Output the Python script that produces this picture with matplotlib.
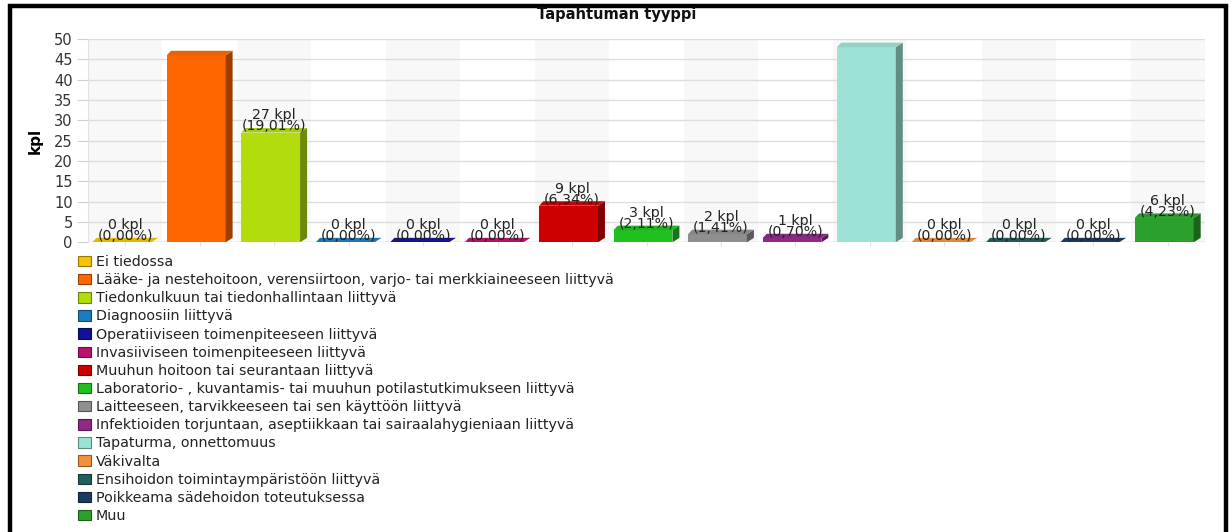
import matplotlib
matplotlib.use("Agg")
import matplotlib.pyplot as plt
from matplotlib.patches import Polygon, Patch, Rectangle
import matplotlib.colors as mcolors
import numpy as np

categories = [
    "Ei tiedossa",
    "Lääke- ja nestehoitoon, verensiirtoon, varjo- tai merkkiaineeseen liittyvä",
    "Tiedonkulkuun tai tiedonhallintaan liittyvä",
    "Diagnoosiin liittyvä",
    "Operatiiviseen toimenpiteeseen liittyvä",
    "Invasiiviseen toimenpiteeseen liittyvä",
    "Muuhun hoitoon tai seurantaan liittyvä",
    "Laboratorio- , kuvantamis- tai muuhun potilastutkimukseen liittyvä",
    "Laitteeseen, tarvikkeeseen tai sen käyttöön liittyvä",
    "Infektioiden torjuntaan, aseptiikkaan tai sairaalahygieniaan liittyvä",
    "Tapaturma, onnettomuus",
    "Väkivalta",
    "Ensihoidon toimintaympäristöön liittyvä",
    "Poikkeama sädehoidon toteutuksessa",
    "Muu",
]
values = [0, 46, 27, 0, 0, 0, 9, 3, 2, 1, 48, 0, 0, 0, 6]
show_label = [True, False, True, True, True, True, True, True, True, True, False, True, True, True, True]
colors = ["#F6C400", "#FF6600", "#B2DC0C", "#1C7CC0", "#10109A", "#BA126C", "#CC0000",
          "#20C020", "#8F8F8F", "#8C2A86", "#9CE3D6", "#F5913E", "#225E5C", "#1B3B60", "#2CA02C"]
title = "Tapahtuman tyyppi"
ylabel = "kpl"
yticks = [0, 5, 10, 15, 20, 25, 30, 35, 40, 45, 50]

W, H = 1232, 532
fig = plt.figure(figsize=(W / 100, H / 100), dpi=100)
fig.patch.set_facecolor("white")

def fx(px):
    return px / W

def fy(py):
    return 1 - py / H

left, right, top, bottom = 88, 1205, 39, 242.3
ax = fig.add_axes([fx(left), fy(bottom), fx(right - left), (bottom - top) / H])
n = len(values)
x = np.arange(n)
ax.set_xlim(-0.5, n - 0.5)
ax.set_ylim(0, 50)

# background bands
for i in range(n):
    if i % 2 == 0:
        ax.axvspan(i - 0.5, i + 0.5, color="#F8F8F8", zorder=0, lw=0)

ax.set_yticks(yticks)
ax.yaxis.grid(True, color="#DDDDDD", lw=1, zorder=1)
ax.set_axisbelow(True)
for s in ["top", "right", "bottom"]:
    ax.spines[s].set_visible(False)
ax.spines["left"].set_color("#E2E2E2")
ax.tick_params(axis="y", length=8, color="#D0D0D0", labelsize=10.5, labelcolor="#333333", pad=3)
ax.tick_params(axis="x", length=3, color="#E0E0E0", labelbottom=False)
ax.set_xticks(x)
ax.axhline(0, color="#D8D8D8", lw=1, zorder=1)
ax.set_ylabel(ylabel, fontsize=11, fontweight="bold", labelpad=8)

front_w = 0.79
dx = 0.094
dy = 1.1
offs = -dx / 2
bars = ax.bar(x + offs, values, width=front_w, color=colors, zorder=3, lw=0)

total = sum(values)
for i, (b, v, c) in enumerate(zip(bars, values, colors)):
    x0 = b.get_x()
    x1 = x0 + b.get_width()
    h = b.get_height()
    rgb = np.array(mcolors.to_rgb(c))
    side = tuple(rgb * 0.62)
    topc = tuple(np.clip(rgb * 0.9 + 0.02, 0, 1))
    ax.add_patch(Polygon([(x1, 0), (x1 + dx, dy), (x1 + dx, h + dy), (x1, h)],
                         closed=True, fc=side, ec="none", zorder=3))
    ax.add_patch(Polygon([(x0, h), (x1, h), (x1 + dx, h + dy), (x0 + dx * 0.6, h + dy)],
                         closed=True, fc=topc, ec="none", zorder=3))
    if show_label[i]:
        pct = f"{v / total * 100:.2f}".replace(".", ",")
        ax.text(x[i], h - 0.2, f"{v} kpl\n({pct}%)", ha="center", va="bottom",
                fontsize=10.2, color="#222222", linespacing=0.72, zorder=4)

fig.text(fx(617), fy(14), title, ha="center", va="center", fontsize=10.5, fontweight="bold", color="#111111")

handles = [Patch(facecolor=c, edgecolor=tuple(np.array(mcolors.to_rgb(c)) * 0.6), lw=0.8)
           for c in colors]
leg = fig.legend(handles, categories, loc="upper left",
                 bbox_to_anchor=(fx(78), fy(255)), frameon=False, fontsize=10.3,
                 labelspacing=0.29, handlelength=0.9, handleheight=0.75,
                 handletextpad=0.35, borderaxespad=0, borderpad=0)
for t in leg.get_texts():
    t.set_color("#222222")

# outer frame
fig.add_artist(Rectangle((fx(10), -0.05), fx(1216), fy(6) + 0.05, transform=fig.transFigure,
                         fill=False, ec="black", lw=3.2))

fig.savefig("out.png", dpi=100)
